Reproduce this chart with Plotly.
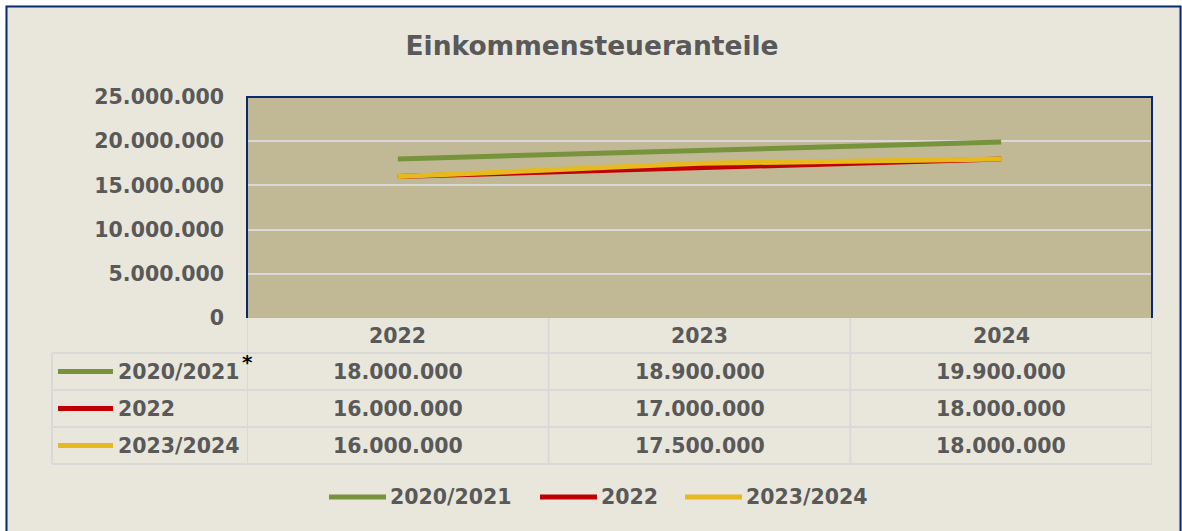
import plotly.graph_objects as go

categories = ["2022", "2023", "2024"]
series_names = ["2020/2021", "2022", "2023/2024"]
values_2020_2021 = [18000000, 18900000, 19900000]
values_2022 = [16000000, 17000000, 18000000]
values_2023_2024 = [16000000, 17500000, 18000000]
series_values = [values_2020_2021, values_2022, values_2023_2024]
colors = ["#77933C", "#C00000", "#E6B91E"]
y_ticks = [0, 5000000, 10000000, 15000000, 20000000, 25000000]

W, H = 1182, 531
PL, PR, PT, PB = 247, 1152, 97, 318  # plot area in page pixels
TXT = "#595959"
FONT = "DejaVu Sans"
BG = "#E9E7DC"
NAVY = "#0B2A6E"
GRID = "#D9D9D9"

def px(x):
    return (x - PL) / (PR - PL)

def py(y):
    return (PB - y) / (PB - PT)

def fmt(v):
    return f"{v:,}".replace(",", ".")

fig = go.Figure()
for name, vals, col in zip(series_names, series_values, colors):
    fig.add_trace(go.Scatter(x=categories, y=vals, name=name, mode="lines",
                             line=dict(color=col, width=5), showlegend=False))

shapes = []
annotations = []

# white strip outside the chart frame (top and left)
shapes.append(dict(type="rect", xref="paper", yref="paper", x0=px(-5), x1=px(5.5), y0=py(600), y1=py(-5),
                   fillcolor="white", line=dict(width=0), layer="above"))
shapes.append(dict(type="rect", xref="paper", yref="paper", x0=px(-5), x1=px(1200), y0=py(5.5), y1=py(-5),
                   fillcolor="white", line=dict(width=0), layer="above"))
# outer frame
shapes.append(dict(type="rect", xref="paper", yref="paper", x0=px(6.5), x1=px(1180.5), y0=py(600), y1=py(6.5),
                   fillcolor="rgba(0,0,0,0)", line=dict(color=NAVY, width=2), layer="above"))

# plot area border (top, left, right)
shapes.append(dict(type="path", xref="paper", yref="paper",
                   path="M 0,0 L 0,1 L 1,1 L 1,0", line=dict(color=NAVY, width=2), layer="above"))

# data table
row_tops = [318, 353, 390, 427, 464]
table_left = 52
for y in row_tops[1:]:
    shapes.append(dict(type="line", xref="paper", yref="paper", x0=px(table_left), x1=1, y0=py(y), y1=py(y),
                       line=dict(color=GRID, width=2)))
for i in range(len(categories) + 1):
    xv = i - 0.5
    shapes.append(dict(type="line", xref="x", yref="paper", x0=xv, x1=xv, y0=py(318), y1=py(464),
                       line=dict(color=GRID, width=2)))
shapes.append(dict(type="line", xref="paper", yref="paper", x0=px(table_left), x1=px(table_left),
                   y0=py(353), y1=py(464), line=dict(color=GRID, width=2)))

tfont = dict(family=FONT, size=20.5, color=TXT, weight="bold")
for i, c in enumerate(categories):
    annotations.append(dict(x=i, xref="x", y=py(336), yref="paper", text=c, showarrow=False,
                            xanchor="center", yanchor="middle", font=tfont))
for r, (name, vals, col) in enumerate(zip(series_names, series_values, colors)):
    yc = (row_tops[r + 1] + row_tops[r + 2]) / 2
    shapes.append(dict(type="line", xref="paper", yref="paper", x0=px(58), x1=px(113), y0=py(yc), y1=py(yc),
                       line=dict(color=col, width=5)))
    annotations.append(dict(x=px(116), xref="paper", y=py(yc), yref="paper", text=name, showarrow=False,
                            xanchor="left", yanchor="middle", font=tfont))
    for i, v in enumerate(vals):
        annotations.append(dict(x=i, xref="x", y=py(yc), yref="paper", text=fmt(v), showarrow=False,
                                xanchor="center", yanchor="middle", font=tfont))
annotations.append(dict(x=px(247), xref="paper", y=py(362), yref="paper", text="*", showarrow=False,
                        xanchor="center", yanchor="middle",
                        font=dict(family=FONT, size=20, color="black", weight="bold")))

# legend (drawn below the table)
legend_swatch_x = [329, 540, 685]
legend_y = 497
for name, col, lx in zip(series_names, colors, legend_swatch_x):
    shapes.append(dict(type="line", xref="paper", yref="paper", x0=px(lx), x1=px(lx + 57),
                       y0=py(legend_y), y1=py(legend_y), line=dict(color=col, width=5)))
    annotations.append(dict(x=px(lx + 59), xref="paper", y=py(legend_y), yref="paper", text=name,
                            showarrow=False, xanchor="left", yanchor="middle", font=tfont))

fig.update_layout(
    width=W, height=H,
    margin=dict(l=PL, r=W - PR, t=PT, b=H - PB, pad=0),
    paper_bgcolor=BG, plot_bgcolor="#C1B996",
    separators=",.",
    title=dict(text="Einkommensteueranteile", x=592 / W, xref="container", xanchor="center",
               y=1 - 46 / H, yref="container", yanchor="middle",
               font=dict(family=FONT, size=26.5, color=TXT, weight="bold")),
    font=dict(family=FONT, color=TXT, size=20),
    showlegend=False,
    shapes=shapes, annotations=annotations,
    xaxis=dict(type="category", range=[-0.5, 2.5], showticklabels=False, showgrid=False,
               zeroline=False, showline=False, fixedrange=True),
    yaxis=dict(range=[0, 25000000], tickvals=y_ticks, tickformat=",d", showgrid=True,
               gridcolor=GRID, gridwidth=2, zeroline=False, showline=False, ticks="",
               ticklabelstandoff=22, tickfont=dict(family=FONT, size=20.5, color=TXT, weight="bold"),
               fixedrange=True),
)

fig.write_html("out.html", config={"displayModeBar": False},
               post_script="document.body.style.margin='0';document.body.style.overflow='hidden';")
